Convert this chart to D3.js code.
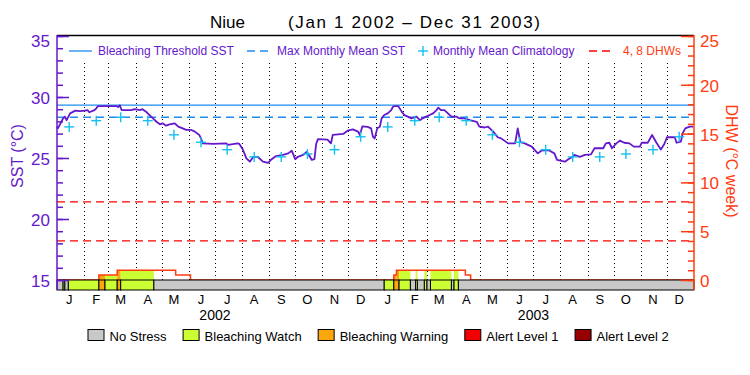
<!doctype html>
<html lang="en">
<head>
<meta charset="utf-8">
<title>Niue SST and DHW</title>
<script src="https://d3js.org/d3.v7.min.js"></script>
<style>
  body { margin: 0; background: #fff; }
  text { font-family: "Liberation Sans", Arial, sans-serif; }
</style>
</head>
<body>
<div id="chart"></div>
<script>

var width = 750, height = 375;

// daily SST (deg C)
var sstSeries = [
  ["2002-01-01",27.57],["2002-01-02",27.43],["2002-01-06",27.97],["2002-01-08",28.25],["2002-01-10",28.39],
  ["2002-01-12",28.10],["2002-01-16",28.66],["2002-01-22",28.88],["2002-01-27",28.85],["2002-02-02",28.88],
  ["2002-02-05",28.93],["2002-02-07",28.75],["2002-02-13",28.93],["2002-02-15",29.07],["2002-02-17",29.26],
  ["2002-03-10",29.26],["2002-03-12",29.18],["2002-03-14",29.32],["2002-03-16",28.93],["2002-03-27",28.93],
  ["2002-03-31",29.00],["2002-04-06",28.93],["2002-04-09",29.00],["2002-04-13",28.80],["2002-04-17",28.52],
  ["2002-04-21",28.25],["2002-04-25",27.97],["2002-04-29",27.76],["2002-05-02",27.84],["2002-05-06",27.65],
  ["2002-05-10",27.76],["2002-05-16",27.84],["2002-05-20",27.57],["2002-05-25",27.43],["2002-05-29",27.30],
  ["2002-06-04",27.30],["2002-06-08",27.16],["2002-06-13",26.89],["2002-06-15",26.61],["2002-06-17",26.20],
  ["2002-06-29",26.15],["2002-07-14",26.20],["2002-07-16",26.07],["2002-07-27",26.20],["2002-07-29",26.15],
  ["2002-08-02",25.70],["2002-08-06",24.97],["2002-08-10",24.70],["2002-08-14",25.10],["2002-08-19",25.10],
  ["2002-08-25",24.70],["2002-08-31",24.60],["2002-09-04",24.90],["2002-09-09",25.16],["2002-09-17",25.25],
  ["2002-09-23",25.38],["2002-09-27",25.60],["2002-10-01",24.90],["2002-10-04",25.10],["2002-10-10",25.25],
  ["2002-10-14",25.50],["2002-10-16",25.33],["2002-10-20",24.84],["2002-10-23",24.90],["2002-10-25",26.15],
  ["2002-10-27",26.55],["2002-11-07",26.50],["2002-11-09",26.35],["2002-11-11",26.20],["2002-11-13",26.89],
  ["2002-11-25",26.97],["2002-11-30",27.24],["2002-12-06",27.35],["2002-12-12",27.16],["2002-12-14",26.89],
  ["2002-12-17",27.60],["2002-12-23",27.55],["2002-12-27",27.43],["2002-12-29",26.75],["2002-12-31",26.60],
  ["2003-01-03",27.43],["2003-01-06",27.57],["2003-01-08",28.25],["2003-01-11",28.52],["2003-01-15",28.66],
  ["2003-01-19",28.93],["2003-01-21",29.20],["2003-01-23",29.26],["2003-01-27",29.26],["2003-01-31",28.80],
  ["2003-02-03",28.52],["2003-02-07",28.39],["2003-02-11",28.25],["2003-02-17",28.39],["2003-02-21",28.10],
  ["2003-02-24",28.25],["2003-02-28",28.39],["2003-03-04",28.52],["2003-03-08",28.66],["2003-03-12",28.93],
  ["2003-03-14",29.13],["2003-03-17",28.93],["2003-03-21",28.93],["2003-03-25",28.66],["2003-03-29",28.39],
  ["2003-04-04",28.39],["2003-04-07",28.25],["2003-04-13",28.25],["2003-04-19",28.10],["2003-04-27",27.97],
  ["2003-04-30",27.57],["2003-05-06",27.50],["2003-05-10",27.57],["2003-05-12",27.43],["2003-05-16",27.16],
  ["2003-05-21",26.70],["2003-05-25",26.61],["2003-06-02",26.20],["2003-06-10",26.20],["2003-06-13",27.43],
  ["2003-06-16",26.30],["2003-06-21",26.20],["2003-06-29",25.93],["2003-07-06",25.38],["2003-07-10",25.60],
  ["2003-07-18",25.65],["2003-07-25",25.38],["2003-07-28",24.84],["2003-08-06",24.70],["2003-08-10",24.90],
  ["2003-08-14",25.06],["2003-08-17",25.25],["2003-08-23",25.10],["2003-08-29",25.25],["2003-09-05",25.30],
  ["2003-09-09",25.80],["2003-09-19",25.80],["2003-09-22",26.20],["2003-09-26",26.25],["2003-09-29",25.80],
  ["2003-10-04",26.20],["2003-10-08",26.42],["2003-10-13",26.25],["2003-10-19",26.20],["2003-10-24",25.93],
  ["2003-10-31",25.93],["2003-11-02",26.25],["2003-11-09",26.25],["2003-11-14",26.89],["2003-11-19",26.25],
  ["2003-11-24",25.70],["2003-11-28",26.15],["2003-12-01",26.70],["2003-12-10",26.70],["2003-12-12",26.25],
  ["2003-12-17",26.35],["2003-12-19",27.02],["2003-12-22",27.43],["2003-12-27",27.57],["2003-12-31",27.57]
];

// monthly mean climatology, Jan..Dec
var climatology = [27.55, 28.06, 28.34, 28.06, 26.90, 26.29, 25.68, 25.09, 25.09, 25.33, 25.68, 26.74];
var mmm = 28.34;            // max monthly mean
var threshold = 29.34;      // bleaching threshold (mmm + 1)
var dhwLines = [4, 8];

// degree heating weeks, step changes
var dhwDates  = ["2002-01-01","2002-02-18","2002-03-11","2002-05-17","2002-06-03",
                 "2003-01-22","2003-01-25","2003-04-14","2003-04-20"];
var dhwValues = [0, 0.5, 1.0, 0.5, 0, 0.5, 1.0, 0.5, 0];

// stress level periods (start dates), 0 = no stress .. 4 = alert level 2
var stressStart = ["2002-01-01","2002-01-08","2002-01-10","2002-01-14","2002-02-18","2002-02-25",
                   "2002-03-11","2002-03-15","2002-04-22","2003-01-11","2003-01-22","2003-01-28",
                   "2003-02-10","2003-02-16","2003-02-18","2003-02-26","2003-03-01","2003-03-05",
                   "2003-03-29","2003-04-01","2003-04-06"];
var stressLevel = [0,1,0,1,2,1,2,1,0,1,2,1,0,1,0,1,0,1,0,1,0];

var stressNames  = ["No Stress","Bleaching Watch","Bleaching Warning","Alert Level 1","Alert Level 2"];
var stressColors = ["#c8c8c8","#ccff33","#faa60d","#f20000","#960000"];

var monthLetters = ["J","F","M","A","M","J","J","A","S","O","N","D"];
var years = [2002, 2003];

var purple = "#6418cc", orange = "#ff3c10", blue = "#1e8cf0", cyan = "#14c0f0";

var parse = d3.timeParse("%Y-%m-%d");
var start = parse("2002-01-01"), end = parse("2004-01-01");

var x = d3.scaleTime().domain([start, end]).range([57, 694]);
var ySst = d3.scaleLinear().domain([15, 35]).range([280, 36]);
var yDhw = d3.scaleLinear().domain([0, 25]).range([280, 36]);

var svg = d3.select('#chart')
            .append('svg')
            .attr('width', width)
            .attr('height', height);

// title
svg.append('text').attr('x', 210).attr('y', 28).attr('font-size', 17).text('Niue');
svg.append('text').attr('x', 288).attr('y', 28).attr('font-size', 17)
   .attr('textLength', 252).attr('lengthAdjust', 'spacing')
   .text('(Jan 1 2002 \u2013 Dec 31 2003)');

// month dotted lines
var monthStarts = d3.timeMonth.range(parse("2002-02-01"), end);
svg.selectAll('.mline').data(monthStarts).enter().append('line')
   .attr('x1', d => Math.round(x(d)) + 0.5).attr('x2', d => Math.round(x(d)) + 0.5)
   .attr('y1', 63).attr('y2', 280)
   .attr('stroke', '#000').attr('stroke-width', 1).attr('stroke-dasharray', '1,3');

// DHW 4 and 8 lines
svg.selectAll('.dhwl').data(dhwLines).enter().append('line')
   .attr('x1', 57).attr('x2', 694)
   .attr('y1', d => yDhw(d)).attr('y2', d => yDhw(d))
   .attr('stroke', '#f00').attr('stroke-width', 1.3).attr('stroke-dasharray', '8,5');

// threshold and MMM
svg.append('line').attr('x1', 57).attr('x2', 694)
   .attr('y1', ySst(threshold)).attr('y2', ySst(threshold))
   .attr('stroke', blue).attr('stroke-width', 1.3);
svg.append('line').attr('x1', 57).attr('x2', 694)
   .attr('y1', ySst(mmm)).attr('y2', ySst(mmm))
   .attr('stroke', blue).attr('stroke-width', 1.3).attr('stroke-dasharray', '8,5');

// DHW steps
var dhwSteps = dhwDates.map(function(d, i) {
  return { s: parse(d), e: i < dhwDates.length - 1 ? parse(dhwDates[i + 1]) : end, v: dhwValues[i] };
});
var stressSegs = stressStart.map(function(d, i) {
  return { s: parse(d), e: i < stressStart.length - 1 ? parse(stressStart[i + 1]) : end, lvl: stressLevel[i] };
});

// fill under DHW curve coloured by stress level
var fills = [];
stressSegs.forEach(function(seg) {
  if (seg.lvl === 0) return;
  dhwSteps.forEach(function(st) {
    var s = Math.max(seg.s, st.s), e = Math.min(seg.e, st.e);
    if (e > s && st.v > 0) fills.push({ s: new Date(s), e: new Date(e), v: st.v, lvl: seg.lvl });
  });
});
svg.selectAll('.dfill').data(fills).enter().append('rect')
   .attr('x', d => x(d.s)).attr('width', d => x(d.e) - x(d.s))
   .attr('y', d => yDhw(d.v)).attr('height', d => yDhw(0) - yDhw(d.v))
   .attr('fill', d => stressColors[d.lvl]);

var dhwPts = dhwSteps.map(d => [d.s, d.v]).concat([[end, dhwValues[dhwValues.length - 1]]]);
svg.append('path')
   .attr('d', d3.line().x(d => x(d[0])).y(d => yDhw(d[1])).curve(d3.curveStepAfter)(dhwPts))
   .attr('fill', 'none').attr('stroke', orange).attr('stroke-width', 1.5);

// stress bar
svg.selectAll('.sbar').data(stressSegs).enter().append('rect')
   .attr('x', d => x(d.s)).attr('width', d => x(d.e) - x(d.s))
   .attr('y', 280).attr('height', 10)
   .attr('fill', d => stressColors[d.lvl])
   .attr('stroke', '#000').attr('stroke-width', 1);

// SST line
svg.append('path')
   .attr('d', d3.line().x(d => x(parse(d[0]))).y(d => ySst(d[1]))(sstSeries))
   .attr('fill', 'none').attr('stroke', purple).attr('stroke-width', 1.8)
   .attr('stroke-linejoin', 'round');

// climatology crosses
var climPts = [];
years.forEach(function(yr) {
  climatology.forEach(function(v, m) { climPts.push([new Date(yr, m, 15), v]); });
});
var cross = svg.selectAll('.clim').data(climPts).enter().append('g')
   .attr('transform', d => 'translate(' + x(d[0]) + ',' + ySst(d[1]) + ')');
cross.append('line').attr('x1', -5).attr('x2', 5).attr('stroke', cyan).attr('stroke-width', 1.4);
cross.append('line').attr('y1', -5).attr('y2', 5).attr('stroke', cyan).attr('stroke-width', 1.4);

// frame
svg.append('line').attr('x1', 57).attr('x2', 694).attr('y1', 35.5).attr('y2', 35.5)
   .attr('stroke', '#000').attr('stroke-width', 1.5);

// left axis
var leftMinor = d3.axisLeft(ySst).tickValues(d3.range(15, 36)).tickSize(-6).tickFormat('');
var leftMajor = d3.axisLeft(ySst).tickValues([15, 20, 25, 30, 35]).tickSize(-12).tickPadding(7);
[leftMinor, leftMajor].forEach(function(ax) {
  var g = svg.append('g').attr('transform', 'translate(57,0)').call(ax);
  g.select('.domain').remove();
  g.selectAll('line').attr('stroke', purple).attr('stroke-width', 1.5);
  g.selectAll('text').attr('fill', purple).attr('font-size', 17)
   .attr('font-family', '"Liberation Sans", Arial, sans-serif')
   .attr('y', d => d === 35 ? 5 : 1);
});
svg.append('line').attr('x1', 57).attr('x2', 57).attr('y1', 35).attr('y2', 290)
   .attr('stroke', purple).attr('stroke-width', 1.5);

// right axis
var rightMinor = d3.axisRight(yDhw).tickValues(d3.range(0, 26)).tickSize(-6).tickFormat('');
var rightMajor = d3.axisRight(yDhw).tickValues([0, 5, 10, 15, 20, 25]).tickSize(-13).tickPadding(6);
[rightMinor, rightMajor].forEach(function(ax) {
  var g = svg.append('g').attr('transform', 'translate(694,0)').call(ax);
  g.select('.domain').remove();
  g.selectAll('line').attr('stroke', orange).attr('stroke-width', 1.5);
  g.selectAll('text').attr('fill', orange).attr('font-size', 17)
   .attr('font-family', '"Liberation Sans", Arial, sans-serif')
   .attr('y', d => d === 25 ? 5 : 1);
});
svg.append('line').attr('x1', 694).attr('x2', 694).attr('y1', 35).attr('y2', 290)
   .attr('stroke', orange).attr('stroke-width', 1.5);

// axis titles
svg.append('text').attr('transform', 'translate(23,156) rotate(-90)')
   .attr('text-anchor', 'middle').attr('font-size', 16).attr('fill', purple)
   .text('SST (\u00b0C)');
svg.append('text').attr('transform', 'translate(726,161) rotate(90)')
   .attr('text-anchor', 'middle').attr('font-size', 16).attr('fill', orange)
   .text('DHW (\u00b0C week)');

// month letters and years
var midMonths = [];
years.forEach(function(yr) { d3.range(12).forEach(function(m) { midMonths.push(new Date(yr, m, 15)); }); });
svg.selectAll('.mlab').data(midMonths).enter().append('text')
   .attr('x', d => x(d)).attr('y', 303.5).attr('text-anchor', 'middle')
   .attr('font-size', 13).text(d => monthLetters[d.getMonth()]);
svg.selectAll('.ylab').data(years).enter().append('text')
   .attr('x', d => x(new Date(d, 6, 1))).attr('y', 320).attr('text-anchor', 'middle')
   .attr('font-size', 14).text(d => d);

// top legend
var lg = svg.append('g').attr('font-size', 12);
lg.append('line').attr('x1', 69).attr('x2', 92).attr('y1', 51).attr('y2', 51)
  .attr('stroke', blue).attr('stroke-width', 1.3);
lg.append('text').attr('x', 98).attr('y', 55).attr('fill', purple).text('Bleaching Threshold SST');
lg.append('line').attr('x1', 247).attr('x2', 271).attr('y1', 51).attr('y2', 51)
  .attr('stroke', blue).attr('stroke-width', 1.3).attr('stroke-dasharray', '8,5');
lg.append('text').attr('x', 277).attr('y', 55).attr('fill', purple).text('Max Monthly Mean SST');
lg.append('line').attr('x1', 418).attr('x2', 428).attr('y1', 51).attr('y2', 51).attr('stroke', cyan).attr('stroke-width', 1.4);
lg.append('line').attr('x1', 423).attr('x2', 423).attr('y1', 46).attr('y2', 56).attr('stroke', cyan).attr('stroke-width', 1.4);
lg.append('text').attr('x', 433).attr('y', 55).attr('fill', purple).text('Monthly Mean Climatology');
lg.append('line').attr('x1', 589).attr('x2', 613).attr('y1', 51).attr('y2', 51)
  .attr('stroke', '#f00').attr('stroke-width', 1.3).attr('stroke-dasharray', '8,5');
lg.append('text').attr('x', 623).attr('y', 55).attr('fill', orange).text('4, 8 DHWs');

// bottom legend
var bx = 88;
stressNames.forEach(function(name, i) {
  svg.append('rect').attr('x', bx).attr('y', 329.5).attr('width', 16).attr('height', 11)
     .attr('fill', stressColors[i]).attr('stroke', '#000').attr('stroke-width', 1);
  var t = svg.append('text').attr('x', bx + 21.5).attr('y', 340.5).attr('font-size', 13).text(name);
  bx += 21.5 + t.node().getComputedTextLength() + 16.5;
});

</script>
</body>
</html>
